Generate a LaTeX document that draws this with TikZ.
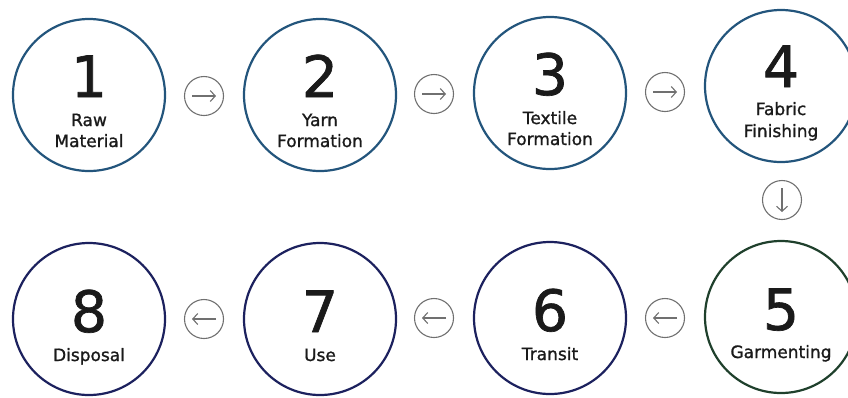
\documentclass[tikz,border=0pt]{standalone}
\usepackage{fontspec}
\setmainfont{DejaVu Sans}
\newfontfamily\stagefont[FakeBold=1.2]{DejaVu Sans}
\usetikzlibrary{arrows.meta,calc}
\definecolor{topring}{HTML}{23557C}
\definecolor{botring}{HTML}{1C215E}
\definecolor{greenring}{HTML}{1F402C}
\definecolor{icongray}{HTML}{707070}
\definecolor{ink}{HTML}{1A1A1A}
\begin{document}
\begin{tikzpicture}[x=1pt,y=-1pt,
  stage/.style={circle,draw,line width=2.2pt,minimum size=152pt,inner sep=0pt},
  bignum/.style={anchor=base,inner sep=0pt,text=ink,font=\stagefont\fontsize{57}{57}\selectfont},
  caption/.style={anchor=base,inner sep=0pt,text=ink,font=\stagefont\fontsize{17}{20}\selectfont},
  flowicon/.style={circle,draw=icongray,line width=1.1pt,minimum size=39pt,inner sep=0pt},
  flowarrow/.style={draw=icongray,line width=1.1pt,-{Straight Barb[length=5pt,width=11pt]}}
]
\useasboundingbox (0,0) rectangle (848,397);
\begin{scope}
\clip (0,0) rectangle (848,397);

% stage rings
\node[stage,draw=topring] (c1) at (89,95) {};
\node[stage,draw=topring] (c2) at (320,95) {};
\node[stage,draw=topring] (c3) at (550,93) {};
\node[stage,draw=topring] (c4) at (781,86) {};
\node[stage,draw=greenring] (c5) at (781,317) {};
\node[stage,draw=botring] (c6) at (550,318) {};
\node[stage,draw=botring] (c7) at (320,319) {};
\node[stage,draw=botring] (c8) at (89,319) {};

% numbers and captions, top row
\node[bignum] (n1) at ($(c1.center)+(0,2)$) {1};
\node[caption] (t1a) at ($(c1.center)+(0,31)$) {Raw};
\node[caption] (t1b) at ($(c1.center)+(0,52)$) {Material};
\node[bignum] (n2) at ($(c2.center)+(0,2)$) {2};
\node[caption] (t2a) at ($(c2.center)+(0,31)$) {Yarn};
\node[caption] (t2b) at ($(c2.center)+(0,52)$) {Formation};
\node[bignum] (n3) at ($(c3.center)+(0,2)$) {3};
\node[caption] (t3a) at ($(c3.center)+(0,31)$) {Textile};
\node[caption] (t3b) at ($(c3.center)+(0,52)$) {Formation};
\node[bignum] (n4) at ($(c4.center)+(0,1)$) {4};
\node[caption] (t4a) at ($(c4.center)+(0,29)$) {Fabric};
\node[caption] (t4b) at ($(c4.center)+(0,51)$) {Finishing};

% numbers and captions, bottom row
\node[bignum] (n5) at ($(c5.center)+(0,13)$) {5};
\node[caption] (t5) at ($(c5.center)+(0,41)$) {Garmenting};
\node[bignum] (n6) at ($(c6.center)+(0,13)$) {6};
\node[caption] (t6) at ($(c6.center)+(0,42)$) {Transit};
\node[bignum] (n7) at ($(c7.center)+(0,13)$) {7};
\node[caption] (t7) at ($(c7.center)+(0,42)$) {Use};
\node[bignum] (n8) at ($(c8.center)+(0,13)$) {8};
\node[caption] (t8) at ($(c8.center)+(0,42)$) {Disposal};

% direction icons
\node[flowicon] (a12) at (204,96) {};
\node[flowicon] (a23) at (434,94) {};
\node[flowicon] (a34) at (665,92) {};
\node[flowicon] (a45) at (782,200) {};
\node[flowicon] (a56) at (665,318) {};
\node[flowicon] (a67) at (434,318) {};
\node[flowicon] (a78) at (204,319) {};

\draw[flowarrow] ($(a12.center)+(-12,0)$) -- ($(a12.center)+(12,0)$);
\draw[flowarrow] ($(a23.center)+(-12,0)$) -- ($(a23.center)+(12,0)$);
\draw[flowarrow] ($(a34.center)+(-12,0)$) -- ($(a34.center)+(12,0)$);
\draw[flowarrow] ($(a45.center)+(0,-12)$) -- ($(a45.center)+(0,12)$);
\draw[flowarrow] ($(a56.center)+(12,0)$) -- ($(a56.center)+(-12,0)$);
\draw[flowarrow] ($(a67.center)+(12,0)$) -- ($(a67.center)+(-12,0)$);
\draw[flowarrow] ($(a78.center)+(12,0)$) -- ($(a78.center)+(-12,0)$);
\end{scope}
\end{tikzpicture}
\end{document}
